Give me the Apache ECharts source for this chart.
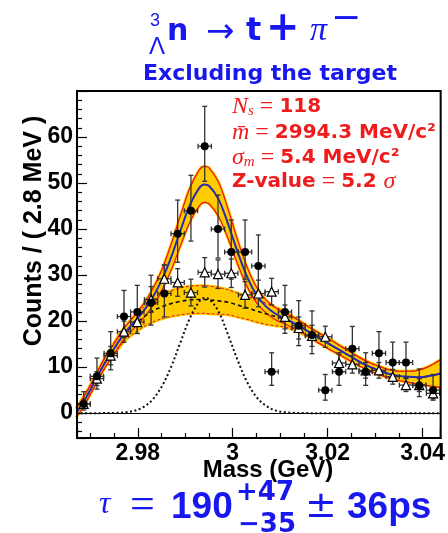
<!DOCTYPE html>
<html>
<head>
<meta charset="utf-8">
<script src="https://cdn.jsdelivr.net/npm/echarts@6/dist/echarts.min.js"></script>
<style>
html,body{margin:0;padding:0;background:#ffffff;}
#chart{width:448px;height:533px;}
</style>
</head>
<body>
<div id="chart"></div>
<script>
// ---------- values ----------
// data histogram (filled circles), bin centres in GeV
const binMass = [2.9686,2.9714,2.9743,2.9771,2.9799,2.9828,2.9856,2.9884,2.9912,2.9941,2.9969,2.9997,3.0026,3.0054,3.0082,3.0110,3.0139,3.0167,3.0195,3.0224,3.0252,3.0280,3.0308,3.0337,3.0365,3.0393,3.0422];
const dataCounts = [2,8,13,21,22,24,26,39,44,58,40,35,35,32,9,22,19,17,5,9,14,9,13,11,11,6,5];
const dataErrUp = [2.66,3.96,4.71,5.66,5.77,5.97,6.17,7.30,7.69,8.66,7.38,6.98,6.98,6.72,4.12,5.77,5.44,5.21,3.40,4.12,4.84,4.12,4.71,4.43,4.43,3.60,3.40];
const dataErrDown = [1.32,2.78,3.57,4.56,4.66,4.87,5.07,6.22,6.61,7.60,6.30,5.89,5.89,5.63,2.96,4.66,4.33,4.09,2.18,2.96,3.71,2.96,3.57,3.28,3.28,2.40,2.18];
// open triangles
const targetCounts = [2.0,7.5,12.5,17.7,19.8,24.7,29.2,28.4,26.2,30.6,30.2,30.4,25.7,26.0,26.4,20.9,18.5,16.8,16.6,10.9,10.6,9.3,9.3,7.9,6.1,6.1,4.3];
const targetErr = [0.8,1.5,2.0,2.3,2.5,2.8,3.0,3.0,2.9,3.2,3.1,3.1,2.9,2.9,2.9,2.6,2.4,2.3,2.3,1.9,1.9,1.7,1.7,1.6,1.4,1.4,1.2];
// fitted curves sampled along the mass axis
const fitMass = [2.967,2.969,2.971,2.973,2.975,2.977,2.979,2.981,2.983,2.985,2.987,2.989,2.991,2.993,2.994,2.995,2.997,2.999,3.001,3.003,3.005,3.007,3.009,3.011,3.013,3.015,3.017,3.019,3.021,3.023,3.025,3.027,3.029,3.031,3.033,3.035,3.037,3.039,3.041,3.043,3.0438];
const totalFit = [0.0,3.2,7.0,10.8,14.0,17.1,19.5,21.9,24.9,28.8,33.8,39.7,45.3,49.0,49.7,49.4,46.5,41.2,35.1,29.7,25.7,23.2,21.6,20.6,19.5,18.3,17.0,15.8,14.6,13.4,12.2,11.0,10.0,9.2,8.5,8.1,7.9,7.8,8.0,8.4,8.6];
const totalErr = [1.0,1.0,1.0,1.1,1.1,1.2,1.3,1.5,1.8,2.2,2.8,3.3,3.7,3.9,3.9,3.9,3.7,3.2,2.6,2.1,1.7,1.4,1.3,1.2,1.2,1.1,1.1,1.1,1.1,1.0,1.0,0.9,0.9,0.9,0.9,1.0,1.2,1.5,2.0,2.7,3.0];
const bgFit = [0.0,3.2,7.0,10.8,14.0,16.9,19.0,20.7,22.1,23.1,23.8,24.3,24.6,24.7,24.7,24.6,24.4,24.1,23.5,22.9,22.2,21.6,21.0,20.4,19.4,18.3,17.0,15.8,14.6,13.4,12.2,11.0,10.0,9.2,8.5,8.1,7.9,7.8,8.0,8.4,8.6];
const bgErr = [1.0,1.0,1.0,1.1,1.3,1.5,1.8,2.1,2.4,2.6,2.8,2.9,3.0,3.0,3.0,3.0,2.9,2.7,2.6,2.5,2.4,2.3,2.0,1.7,1.4,1.2,1.1,1.1,1.1,1.0,1.0,0.9,0.9,0.9,0.9,1.0,1.2,1.5,2.0,2.7,3.0];
const sigFit = [0,0,0,0.01,0.04,0.15,0.45,1.2,2.8,5.7,10.0,15.4,20.7,24.3,25.0,24.8,22.1,17.1,11.6,6.8,3.5,1.6,0.6,0.2,0.06,0.02,0,0,0,0,0,0,0,0,0,0,0,0,0,0,0];
// tick labels
const xTickValues = [2.98, 3.00, 3.02, 3.04];
const xTickLabels = ['2.98', '3', '3.02', '3.04'];
const yTickValues = [0, 10, 20, 30, 40, 50, 60];
const yTickLabels = ['0', '10', '20', '30', '40', '50', '60'];
const halfBinWidth = 0.0014;

// ---------- helpers ----------
const YELLOW = '#ffcc00';
const RED = '#ee1111';
const BLUE_TXT = '#1818ee';
const TXT_RED = '#ee1c1c';
function pairs(xs, ys) { return xs.map(function (x, i) { return [x, ys[i]]; }); }
function tickLabel(values, labels) {
  return function (v) {
    for (let i = 0; i < values.length; i++) {
      if (Math.abs(v - values[i]) < 1e-7) return labels[i];
    }
    return '';
  };
}
const totalLo = totalFit.map(function (v, i) { return v - totalErr[i]; });
const totalHi = totalFit.map(function (v, i) { return v + totalErr[i]; });
const bgLo = bgFit.map(function (v, i) { return v - bgErr[i]; });
const bgHi = bgFit.map(function (v, i) { return v + bgErr[i]; });

function errorBars(color) {
  return function (params, api) {
    const m = api.value(0), y = api.value(1), dn = api.value(2), up = api.value(3);
    const l = api.coord([m - halfBinWidth, y]);
    const r = api.coord([m + halfBinWidth, y]);
    const t = api.coord([m, y + up]);
    const b = api.coord([m, y - dn]);
    const cap = 2.5;
    const st = { stroke: color, lineWidth: 1.3 };
    return {
      type: 'group',
      children: [
        { type: 'line', shape: { x1: l[0], y1: l[1], x2: r[0], y2: r[1] }, style: st },
        { type: 'line', shape: { x1: t[0], y1: t[1], x2: b[0], y2: b[1] }, style: st },
        { type: 'line', shape: { x1: l[0], y1: l[1] - cap, x2: l[0], y2: l[1] + cap }, style: st },
        { type: 'line', shape: { x1: r[0], y1: r[1] - cap, x2: r[0], y2: r[1] + cap }, style: st },
        { type: 'line', shape: { x1: t[0] - cap, y1: t[1], x2: t[0] + cap, y2: t[1] }, style: st },
        { type: 'line', shape: { x1: b[0] - cap, y1: b[1], x2: b[0] + cap, y2: b[1] }, style: st }
      ]
    };
  };
}

function txt(x, y, text, font, fill, align, extra) {
  const o = {
    type: 'text', x: x, y: y, z: 100,
    style: {
      text: text, font: font, fill: fill,
      align: align || 'left', verticalAlign: 'middle',
      textAlign: align || 'left', textVerticalAlign: 'middle'
    }
  };
  if (extra) { for (const k in extra) o[k] = extra[k]; }
  return o;
}

const SM = 0.35;
const richRed = {
  i: { font: 'italic 24px "Liberation Serif"', fill: TXT_RED },
  s: { font: 'italic 15px "Liberation Serif"', fill: TXT_RED, lineHeight: 8, verticalAlign: 'bottom' },
  e: { font: '24px "Liberation Serif"', fill: TXT_RED },
  b: { font: 'bold 20px "DejaVu Sans"', fill: TXT_RED }
};
function redLine(y, text) {
  return {
    type: 'text', x: 232, y: y, z: 100,
    style: { text: text, rich: richRed, fill: TXT_RED, font: '24px "Liberation Serif"',
      align: 'left', verticalAlign: 'middle', textAlign: 'left', textVerticalAlign: 'middle' }
  };
}

// band: yellow fill under upper edge, then white mask under lower edge
function bandLayer(ys, fill, z) {
  return { type: 'line', data: pairs(fitMass, ys), smooth: SM, symbol: 'none', z: z,
    lineStyle: { color: YELLOW, width: 3 }, areaStyle: { color: fill, opacity: 1, origin: 'start' } };
}
function plainLine(ys, color, width, type, z) {
  return { type: 'line', data: pairs(fitMass, ys), smooth: SM, symbol: 'none', z: z,
    lineStyle: { color: color, width: width, type: type || 'solid' } };
}

const option = {
  animation: false,
  backgroundColor: '#ffffff',
  grid: { left: 77, top: 91, width: 364, height: 347, show: true, borderColor: '#000', borderWidth: 2,
    backgroundColor: 'transparent', z: 30 },
  xAxis: {
    type: 'value', min: 2.9672, max: 3.0438, splitNumber: 4, z: 20,
    axisLine: { show: true, onZero: false, lineStyle: { color: '#000', width: 2 } },
    axisTick: { show: true, inside: true, length: 10, lineStyle: { color: '#000', width: 1.2 } },
    minorTick: { show: true, splitNumber: 4, length: 5, lineStyle: { color: '#000', width: 1.2 } },
    splitLine: { show: false },
    axisLabel: { formatter: tickLabel(xTickValues, xTickLabels), margin: 4, color: '#000',
      fontFamily: 'Liberation Sans', fontWeight: 'bold', fontSize: 23 }
  },
  yAxis: {
    type: 'value', min: -5.4, max: 70, splitNumber: 8, z: 20,
    axisLine: { show: true, onZero: false, lineStyle: { color: '#000', width: 2 } },
    axisTick: { show: true, inside: true, length: 10, lineStyle: { color: '#000', width: 1.2 } },
    minorTick: { show: true, splitNumber: 5, length: 5, lineStyle: { color: '#000', width: 1.2 } },
    splitLine: { show: false },
    axisLabel: { formatter: tickLabel(yTickValues, yTickLabels), margin: 4, color: '#000',
      fontFamily: 'Liberation Sans', fontWeight: 'bold', fontSize: 23 }
  },
  series: [
    bandLayer(totalHi, YELLOW, 1),
    bandLayer(totalLo, '#ffffff', 2),
    bandLayer(bgHi, YELLOW, 3),
    bandLayer(bgLo, '#ffffff', 4),
    // band edges
    plainLine(bgHi, RED, 1, [3, 2], 5),
    plainLine(bgLo, RED, 1, [3, 2], 5),
    plainLine(totalHi, RED, 1.2, 'solid', 5),
    plainLine(totalLo, RED, 1.2, 'solid', 5),
    // zero line + curves
    { type: 'line', data: pairs(fitMass, bgFit), smooth: SM, symbol: 'none', z: 6,
      lineStyle: { color: '#111', width: 1.6, type: [4, 3] },
      markLine: { silent: true, symbol: 'none', z: 6, label: { show: false },
        lineStyle: { color: '#000', type: 'solid', width: 1.2 }, data: [{ yAxis: 0 }] } },
    plainLine(sigFit, '#111', 2, [2, 2.5], 6),
    plainLine(totalFit, '#2a2ab4', 2, 'solid', 6),
    // error bars
    { type: 'custom', z: 7, renderItem: errorBars('#333'), encode: { x: 0, y: 1 },
      data: binMass.map(function (m, i) { return [m, targetCounts[i], targetErr[i], targetErr[i]]; }) },
    { type: 'custom', z: 7, renderItem: errorBars('#333'), encode: { x: 0, y: 1 },
      data: binMass.map(function (m, i) { return [m, dataCounts[i], dataErrDown[i], dataErrUp[i]]; }) },
    // markers
    { type: 'scatter', z: 8, symbol: 'triangle', symbolSize: 9, data: pairs(binMass, targetCounts),
      itemStyle: { color: '#ffffff', borderColor: '#000', borderWidth: 1.2, opacity: 1 } },
    { type: 'scatter', z: 9, symbol: 'circle', symbolSize: 8, data: pairs(binMass, dataCounts),
      itemStyle: { color: '#000', opacity: 1 } }
  ],
  graphic: [
    // title
    txt(150, 21.5, '3', '18px "Liberation Sans"', BLUE_TXT),
    txt(149, 47, 'Λ', '24px "Liberation Sans"', BLUE_TXT),
    txt(167, 32.5, 'n', 'bold 30px "DejaVu Sans"', BLUE_TXT),
    txt(206, 33, '→', '34px "DejaVu Sans"', BLUE_TXT),
    txt(246, 32, 't', 'bold 32px "DejaVu Sans"', BLUE_TXT),
    txt(266, 30, '+', 'bold 40px "DejaVu Sans"', BLUE_TXT),
    txt(310, 31, 'π', 'italic 34px "Liberation Serif"', BLUE_TXT),
    txt(331, 20, '−', '36px "DejaVu Sans"', BLUE_TXT),
    txt(270, 74, 'Excluding the target', 'bold 22px "DejaVu Sans"', BLUE_TXT, 'center'),
    // fit results
    redLine(107, '{i|N}{s|s}{e| = }{b|118}'),
    redLine(133, '{i|m̄}{e| = }{b|2994.3 MeV/c²}'),
    redLine(158, '{i|σ}{s|m}{e| = }{b|5.4 MeV/c²}'),
    redLine(182, '{b|Z-value}{e| = }{b|5.2 }{i|σ}'),
    // axis titles
    txt(34, 231, 'Counts / ( 2.8 MeV )', 'bold 25px "Liberation Sans"', '#000', 'center', { rotation: Math.PI / 2 }),
    txt(268, 470, 'Mass (GeV)', 'bold 24px "Liberation Sans"', '#000', 'center'),
    // lifetime
    txt(99, 505, 'τ', 'italic 32px "Liberation Serif"', BLUE_TXT),
    txt(130, 506, '=', '44px "Liberation Serif"', BLUE_TXT),
    txt(171, 507.5, '190', 'bold 37px "Liberation Sans"', BLUE_TXT),
    txt(236, 493, '+47', 'bold 26px "DejaVu Sans"', BLUE_TXT),
    txt(238, 525, '−35', 'bold 26px "DejaVu Sans"', BLUE_TXT),
    txt(305, 507, '±', '38px "DejaVu Sans"', BLUE_TXT),
    txt(347, 507.5, '36ps', 'bold 37px "Liberation Sans"', BLUE_TXT)
  ]
};

const chart = echarts.init(document.getElementById('chart'), null, { renderer: 'canvas' });
chart.setOption(option);
</script>
</body>
</html>
